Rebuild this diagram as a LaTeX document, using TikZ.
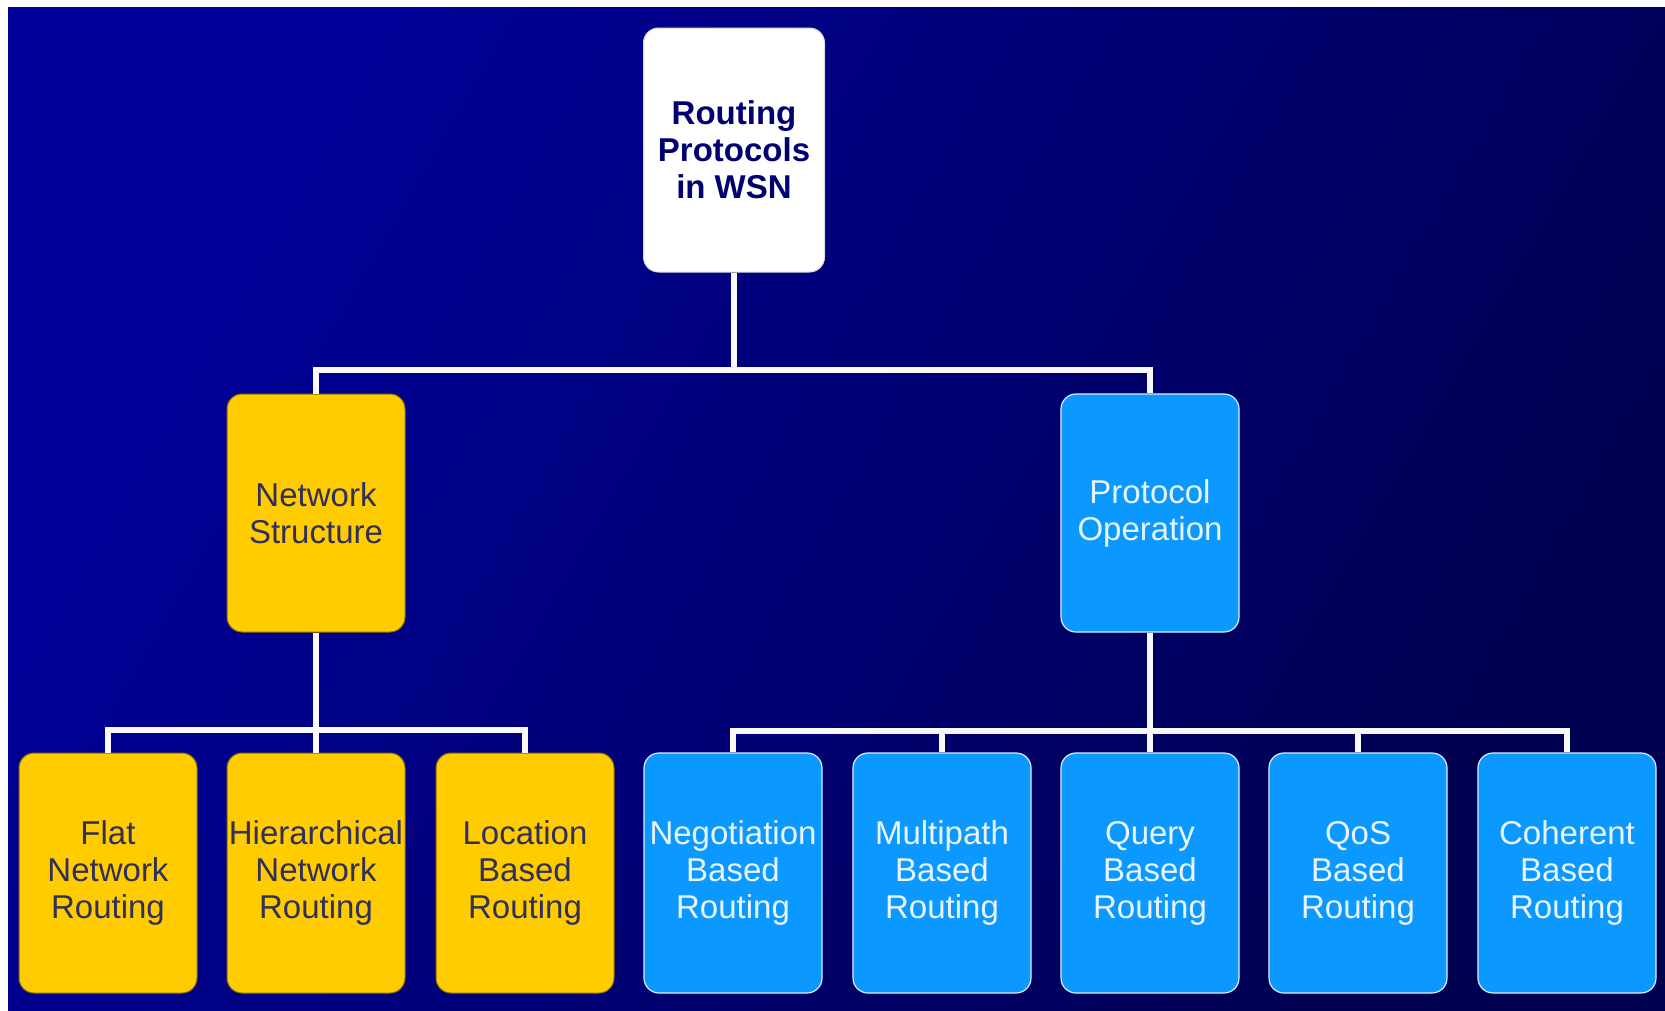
\documentclass[tikz,border=0pt]{standalone}
\usepackage{fontspec}
\setmainfont{Liberation Sans}
\definecolor{bgA}{HTML}{00009A}
\definecolor{bgM}{HTML}{000088}
\definecolor{bgB}{HTML}{000050}
\definecolor{yel}{HTML}{FFCC00}
\definecolor{sky}{HTML}{0C99FF}
\definecolor{navytext}{HTML}{000070}
\definecolor{darktext}{HTML}{303058}
\definecolor{lighttext}{HTML}{E8F4FF}
\begin{document}
\begin{tikzpicture}[x=1pt,y=-1pt,
  box/.style={rounded corners=15pt, minimum width=178pt, minimum height=240pt,
    inner sep=0pt, align=center, font=\fontsize{33}{37}\selectfont},
  rootbox/.style={box, fill=white, draw=gray!30, line width=1pt, text=navytext,
    font=\fontsize{33}{37}\selectfont\bfseries, minimum width=181pt, minimum height=244pt},
  ybox/.style={box, fill=yel, draw=yel!55!black, line width=1pt, text=darktext},
  bbox/.style={box, fill=sky, draw=white!85!sky, line width=1.2pt, text=lighttext},
  midbox/.style={minimum height=238pt},
  link/.style={draw=white!95!gray, line width=6pt}]
\useasboundingbox (0,0) rectangle (1665,1010);
\fill[white] (0,0) rectangle (1665,1010);
\shade[left color=bgA, middle color=bgM, right color=bgB, shading angle=60] (8,7) rectangle (1665,1010);

% nodes
\node[rootbox] (root) at (734,150) {Routing\\Protocols\\in WSN};
\node[ybox, midbox] (ns) at (316,513) {Network\\Structure};
\node[bbox, midbox] (po) at (1150,513) {Protocol\\Operation};

\node[ybox] (flat)  at (108,873) {Flat\\Network\\Routing};
\node[ybox] (hier)  at (316,873) {Hierarchical\\Network\\Routing};
\node[ybox] (loc)   at (525,873) {Location\\Based\\Routing};
\node[bbox] (neg)   at (733,873) {Negotiation\\Based\\Routing};
\node[bbox] (multi) at (942,873) {Multipath\\Based\\Routing};
\node[bbox] (query) at (1150,873) {Query\\Based\\Routing};
\node[bbox] (qos)   at (1358,873) {QoS\\Based\\Routing};
\node[bbox] (coh)   at (1567,873) {Coherent\\Based\\Routing};

% junctions
\coordinate (b1) at (734,370);
\coordinate (b2) at (316,730);
\coordinate (b3) at (1150,731);

% connectors
\draw[link] (root.south) -- (b1);
\draw[link] (ns.north) |- (b1) -| (po.north);

\draw[link] (ns.south) -- (b2);
\draw[link] (flat.north) |- (b2) -| (loc.north);
\draw[link] (b2) -- (hier.north);

\draw[link] (po.south) -- (b3);
\draw[link] (neg.north) |- (b3) -| (coh.north);
\draw[link] (b3) -- (query.north);
\draw[link] (multi.north) -- (multi.north |- b3);
\draw[link] (qos.north) -- (qos.north |- b3);
\end{tikzpicture}
\end{document}
